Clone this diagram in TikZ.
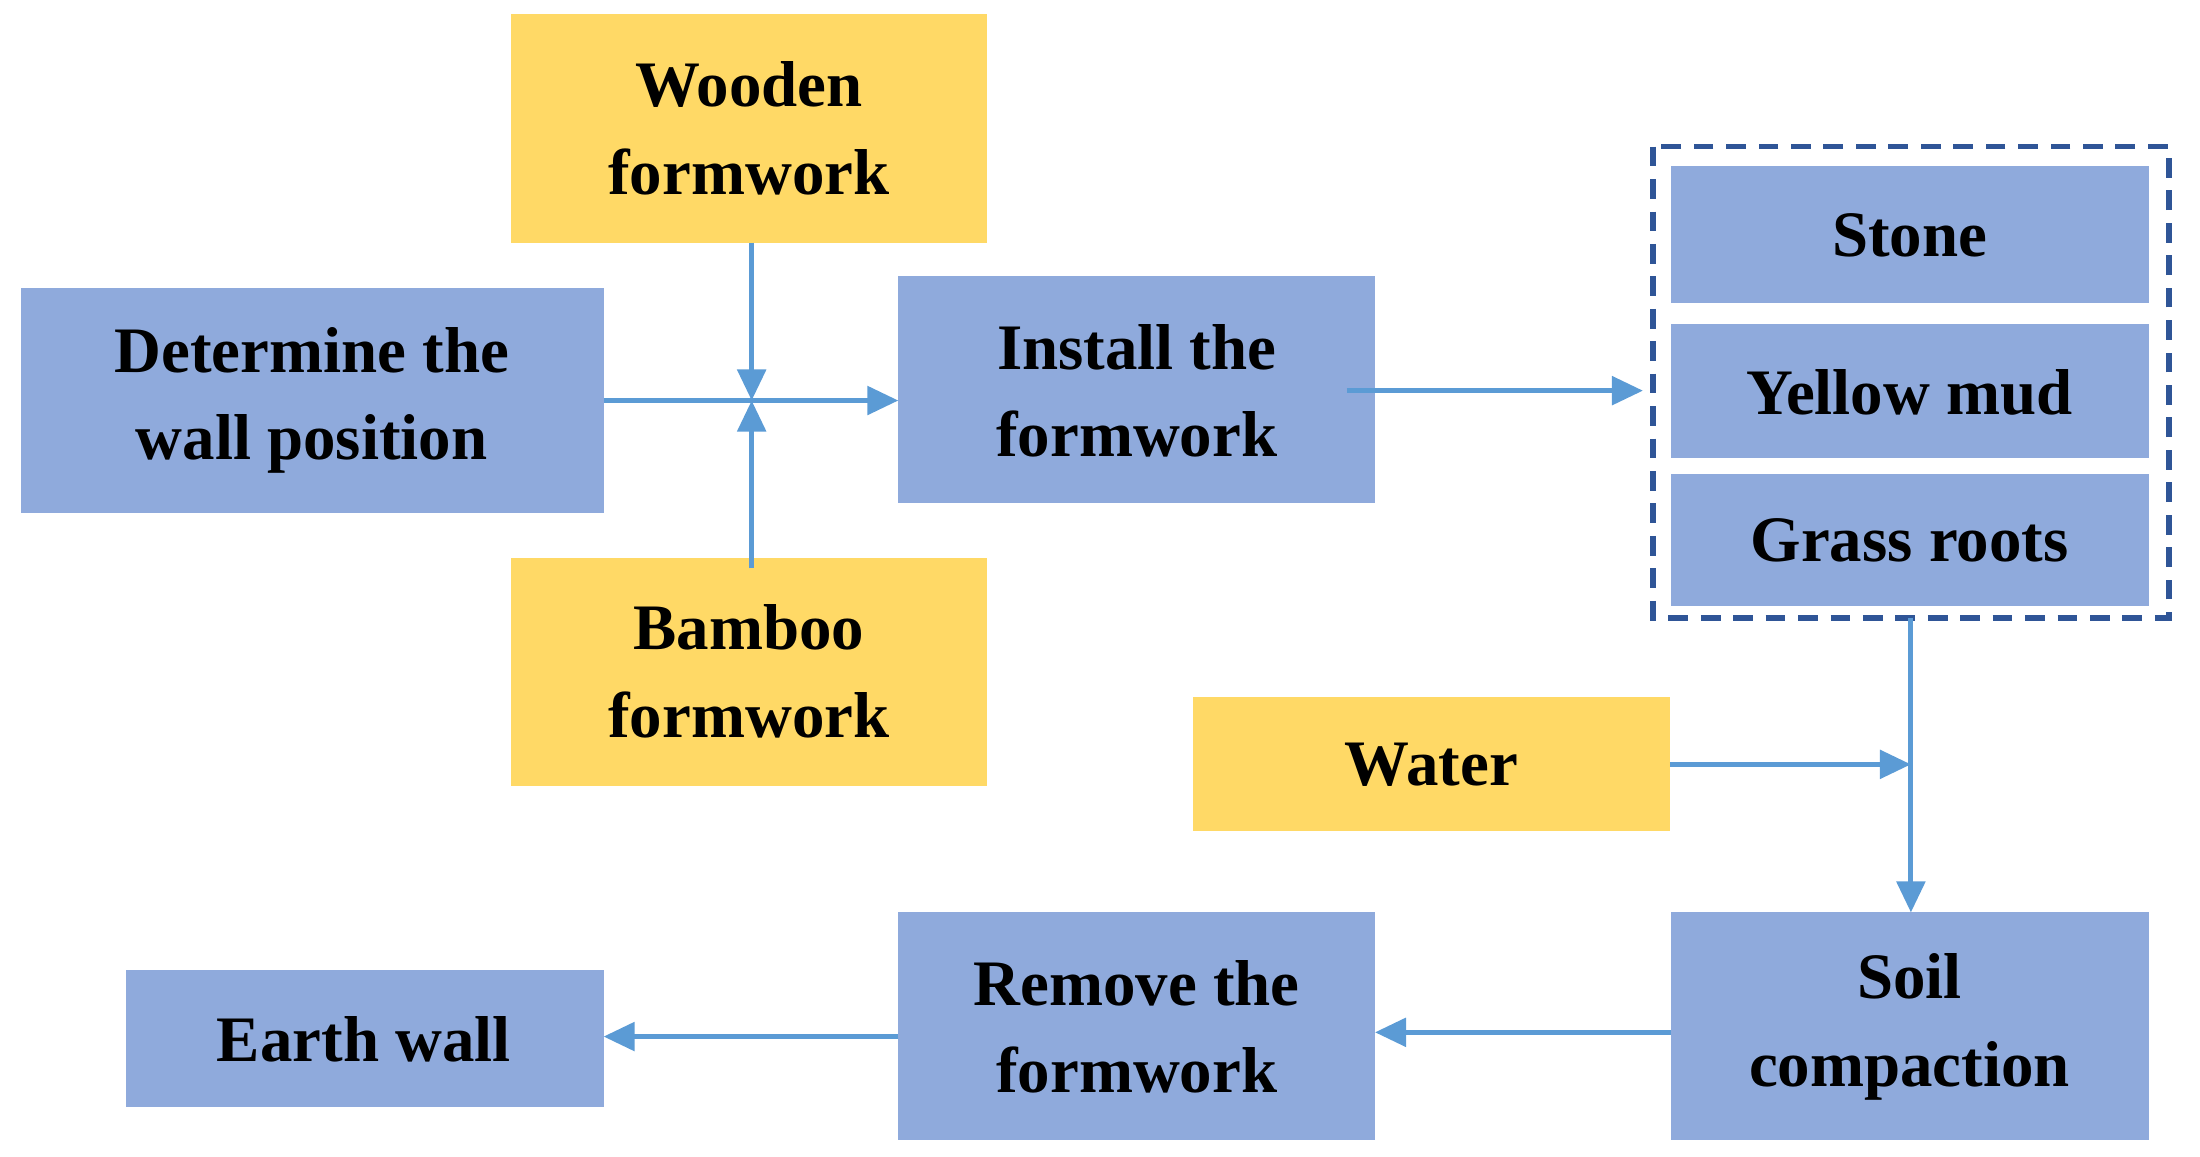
\documentclass[tikz,border=0pt]{standalone}
\usepackage{fontspec}
\setmainfont{Liberation Serif}
\usetikzlibrary{arrows.meta}
\definecolor{bl}{HTML}{8FAADC}
\definecolor{yl}{HTML}{FFD966}
\definecolor{ar}{HTML}{5B9BD5}
\definecolor{dk}{HTML}{2F5597}
\begin{document}
\begin{tikzpicture}[x=1pt,y=-1pt,
  box/.style={draw=none,inner sep=0,align=center,font=\fontsize{46}{62}\selectfont\bfseries},
  arr/.style={draw=ar,line width=3.5pt,-{Triangle[length=22pt,width=20pt]}},
  ln/.style={draw=ar,line width=3.5pt}]
\useasboundingbox (0,0) rectangle (1560,820);
\newcommand{\bx}[6]{\fill[#2] (#3,#4) rectangle (#5,#6); \node[box] (#1) at ({(#3+#5)/2},{(#4+#6)/2}) {#1text};}
\fill[yl] (362,10) rectangle (700,172); \node[box] (wood) at (531,91) {Wooden\\formwork};
\fill[bl] (15,204) rectangle (428,364); \node[box] (det) at (221,284) {Determine the\\wall position};
\fill[yl] (362,396) rectangle (700,557); \node[box] (bam) at (531,476) {Bamboo\\formwork};
\fill[bl] (637,196) rectangle (975,357); \node[box] (inst) at (806,277) {Install the\\formwork};
\fill[bl] (1185,118) rectangle (1524,215); \node[box] (stone) at (1354,167) {Stone};
\fill[bl] (1185,230) rectangle (1524,325); \node[box] (mud) at (1354,278) {Yellow mud};
\fill[bl] (1185,336) rectangle (1524,430); \node[box] (grass) at (1354,383) {Grass roots};
\draw[dk,line width=4pt,dash pattern=on 14pt off 9pt] (1172,104) rectangle (1538,438);
\coordinate (dl) at (1165,277); \coordinate (db) at (1355,438);
\fill[yl] (846,494) rectangle (1184,589); \node[box] (water) at (1015,542) {Water};
\fill[bl] (1185,647) rectangle (1524,808); \node[box] (soil) at (1354,728) {Soil\\compaction};
\fill[bl] (637,647) rectangle (975,808); \node[box] (rem) at (806,728) {Remove the\\formwork};
\fill[bl] (89,688) rectangle (428,785); \node[box] (earth) at (258,737) {Earth wall};
\coordinate (j) at (533,284);
\draw[arr] (428,284) -- (637,284);
\draw[arr] (533,172) -- (j);
\draw[arr] (533,403) -- (j);
\draw[arr] (955,277) -- (dl);
\draw[arr] (db) -- (1355,647);
\draw[arr] (1184,542) -- (1355,542);
\draw[arr] (1185,732) -- (975,732);
\draw[arr] (637,735) -- (428,735);
\end{tikzpicture}
\end{document}
